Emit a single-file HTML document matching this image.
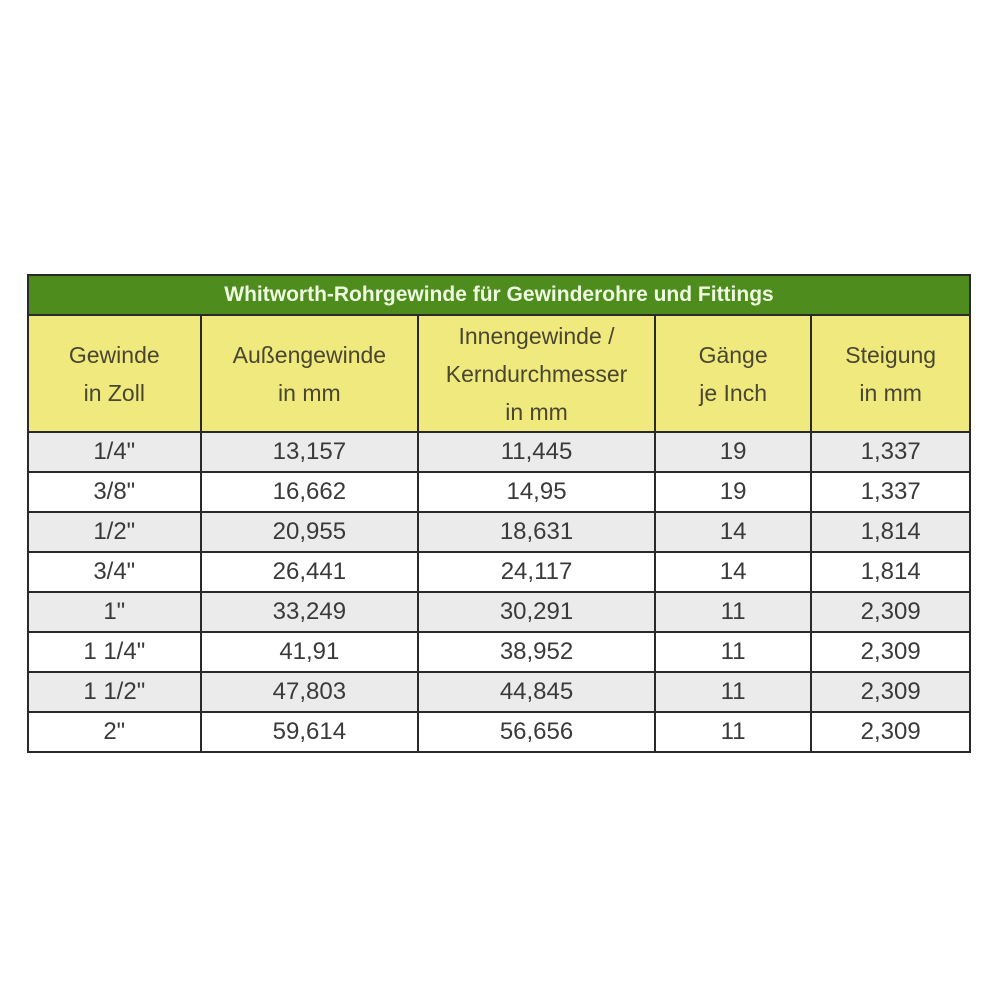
<!DOCTYPE html>
<html><head><style>
body{margin:0;width:1000px;height:1000px;background:#fff;position:relative;font-family:"Liberation Sans",sans-serif;}
table{position:absolute;left:27px;top:274px;border-collapse:collapse;width:944px;}
td{border:2px solid #2a2a2a;text-align:center;padding:0;color:#3a3a3a;font-size:24px;}
.t td{background:#4e8c1e;color:#eefbe0;font-weight:bold;font-size:21px;height:38px;}
.h td{background:#efe97e;color:#4a4630;height:115px;line-height:38px;font-size:23px;}
.g td{background:#ebebeb;}
tr.d td{height:38px;}
</style></head><body>
<table>
<colgroup><col style="width:173px"><col style="width:218px"><col style="width:237px"><col style="width:157px"><col style="width:159px"></colgroup>
<tr class="t"><td colspan="5">Whitworth-Rohrgewinde für Gewinderohre und Fittings</td></tr>
<tr class="h"><td>Gewinde<br>in Zoll</td><td>Außengewinde<br>in mm</td><td>Innengewinde /<br>Kerndurchmesser<br>in mm</td><td>Gänge<br>je Inch</td><td>Steigung<br>in mm</td></tr>
<tr class="d g"><td>1/4"</td><td>13,157</td><td>11,445</td><td>19</td><td>1,337</td></tr>
<tr class="d"><td>3/8"</td><td>16,662</td><td>14,95</td><td>19</td><td>1,337</td></tr>
<tr class="d g"><td>1/2"</td><td>20,955</td><td>18,631</td><td>14</td><td>1,814</td></tr>
<tr class="d"><td>3/4"</td><td>26,441</td><td>24,117</td><td>14</td><td>1,814</td></tr>
<tr class="d g"><td>1"</td><td>33,249</td><td>30,291</td><td>11</td><td>2,309</td></tr>
<tr class="d"><td>1 1/4"</td><td>41,91</td><td>38,952</td><td>11</td><td>2,309</td></tr>
<tr class="d g"><td>1 1/2"</td><td>47,803</td><td>44,845</td><td>11</td><td>2,309</td></tr>
<tr class="d"><td>2"</td><td>59,614</td><td>56,656</td><td>11</td><td>2,309</td></tr>
</table>
</body></html>
